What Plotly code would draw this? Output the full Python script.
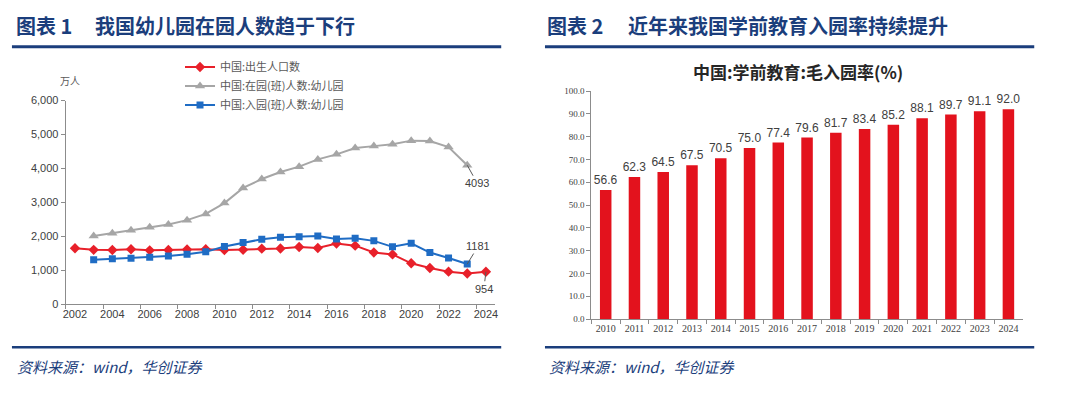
import plotly.graph_objects as go

# ---- data: left chart (万人) ----
years_birth = list(range(2002, 2025))
births = [1647, 1599, 1593, 1617, 1585, 1594, 1608, 1615, 1592, 1604, 1635, 1640,
          1683, 1655, 1786, 1723, 1523, 1465, 1202, 1062, 956, 902, 954]
years_kg = list(range(2003, 2024))
in_kg = [2004, 2089, 2179, 2264, 2349, 2475, 2658, 2977, 3424, 3686, 3895, 4051,
         4265, 4414, 4600, 4656, 4714, 4818, 4805, 4627, 4093]
enroll_kg = [1310, 1340, 1350, 1380, 1420, 1470, 1540, 1700, 1816, 1911, 1970, 1988,
             2009, 1922, 1938, 1864, 1688, 1791, 1519, 1360, 1181]
left_names = ["中国:出生人口数", "中国:在园(班)人数:幼儿园", "中国:入园(班)人数:幼儿园"]
left_yticks = [0, 1000, 2000, 3000, 4000, 5000, 6000]
left_xticks = list(range(2002, 2025, 2))

# ---- data: right chart (%) ----
rate_years = [str(y) for y in range(2010, 2025)]
rate = [56.6, 62.3, 64.5, 67.5, 70.5, 75.0, 77.4, 79.6, 81.7, 83.4, 85.2, 88.1, 89.7, 91.1, 92.0]
right_yticks = [0, 10, 20, 30, 40, 50, 60, 70, 80, 90, 100]

W, H = 1080, 393
def px(x):
    return x / W
def py(y):
    return (H - y) / H

NAVY = "#1B3E7C"
CJK = "Noto Sans CJK SC"
AXC = "#8C8C8C"
TXT = "#404040"

fig = go.Figure()

fig.add_trace(go.Scatter(x=years_birth, y=births, name=left_names[0], mode="lines+markers",
                         line=dict(color="#E8202A", width=2),
                         marker=dict(symbol="diamond", size=8, color="#E8202A"),
                         xaxis="x", yaxis="y"))
fig.add_trace(go.Scatter(x=years_kg, y=in_kg, name=left_names[1], mode="lines+markers",
                         line=dict(color="#A6A6A6", width=2),
                         marker=dict(symbol="triangle-up", size=9, color="#A6A6A6"),
                         xaxis="x", yaxis="y"))
fig.add_trace(go.Scatter(x=years_kg, y=enroll_kg, name=left_names[2], mode="lines+markers",
                         line=dict(color="#1F6CC4", width=2),
                         marker=dict(symbol="square", size=7, color="#1F6CC4"),
                         xaxis="x", yaxis="y"))

fig.add_trace(go.Bar(x=rate_years, y=rate, marker=dict(color="#E3121D", line=dict(width=0)),
                     width=0.4, text=[f"{v:.1f}" for v in rate], textposition="outside",
                     textangle=0, constraintext="none",
                     textfont=dict(family="Liberation Sans", size=12, color=TXT),
                     cliponaxis=False, showlegend=False, xaxis="x2", yaxis="y2"))

fig.update_layout(
    width=W, height=H, margin=dict(l=0, r=0, t=0, b=0),
    paper_bgcolor="white", plot_bgcolor="white",
    showlegend=True,
    legend=dict(x=px(178), y=py(48), xanchor="left", yanchor="top",
                font=dict(family=CJK, size=11, color="#595959"),
                bgcolor="rgba(0,0,0,0)", tracegroupgap=0, itemwidth=30),
    xaxis=dict(domain=[px(63), px(495)], range=[2001.5, 2024.5], anchor="y",
               tickmode="array", tickvals=left_xticks, ticks="",
               showline=True, linecolor=AXC, linewidth=1, showgrid=False, zeroline=False,
               tickfont=dict(family="Liberation Sans", size=11, color=TXT),
               minor=dict(tickmode="array", tickvals=[2001.5 + 2 * i for i in range(12)],
                          ticks="outside", ticklen=4, tickcolor=AXC, showgrid=False)),
    yaxis=dict(domain=[py(307.5), py(97.5)], range=[0, 6000], anchor="x",
               tickmode="array", tickvals=left_yticks, tickformat=",d",
               ticks="outside", ticklen=4, tickcolor=AXC,
               showline=True, linecolor=AXC, linewidth=1, showgrid=False, zeroline=False,
               tickfont=dict(family="Liberation Sans", size=11, color=TXT)),
    xaxis2=dict(domain=[px(591.6), px(1025.5)], type="category", anchor="y2",
                tickson="boundaries", ticks="outside", ticklen=4, tickcolor=AXC, tickangle=0,
                showline=True, linecolor=AXC, linewidth=1, showgrid=False,
                tickfont=dict(family="Liberation Serif", size=10, color=TXT)),
    yaxis2=dict(domain=[py(323), py(87.7)], range=[0, 100], anchor="x2",
                tickmode="array", tickvals=right_yticks, tickformat=".1f",
                ticks="outside", ticklen=4, tickcolor=AXC,
                showline=True, linecolor=AXC, linewidth=1, showgrid=False, zeroline=False,
                tickfont=dict(family="Liberation Serif", size=9, color=TXT)),
)

ann = []
# panel titles
ann.append(dict(text="<b>图表 1</b>", x=px(11), y=py(20), xref="paper", yref="paper",
                xanchor="left", yanchor="middle", showarrow=False,
                font=dict(family=CJK, size=20, color=NAVY)))
ann.append(dict(text="<b>我国幼儿园在园人数趋于下行</b>", x=px(91), y=py(20), xref="paper", yref="paper",
                xanchor="left", yanchor="middle", showarrow=False,
                font=dict(family=CJK, size=20, color=NAVY)))
ann.append(dict(text="<b>图表 2</b>", x=px(545), y=py(20), xref="paper", yref="paper",
                xanchor="left", yanchor="middle", showarrow=False,
                font=dict(family=CJK, size=20, color=NAVY)))
ann.append(dict(text="<b>近年来我国学前教育入园率持续提升</b>", x=px(626), y=py(20), xref="paper", yref="paper",
                xanchor="left", yanchor="middle", showarrow=False,
                font=dict(family=CJK, size=20, color=NAVY)))
# sources
for xs in (12, 547):
    ann.append(dict(text="<i>资料来源：wind，华创证券</i>", x=px(xs), y=py(372), xref="paper", yref="paper",
                    xanchor="left", yanchor="middle", showarrow=False,
                    font=dict(family=CJK, size=15, color=NAVY)))
# unit
ann.append(dict(text="万人", x=px(67), y=py(77), xref="paper", yref="paper",
                xanchor="center", yanchor="middle", showarrow=False,
                font=dict(family=CJK, size=10, color="#595959")))
# right chart title
ann.append(dict(text="<b>中国:学前教育:毛入园率(%)</b>", x=px(799), y=py(68), xref="paper", yref="paper",
                xanchor="center", yanchor="middle", showarrow=False,
                font=dict(family=CJK, size=17, color="#262626")))
# end-point labels
lab_font = dict(family="Liberation Sans", size=11, color=TXT)
ann.append(dict(text=str(in_kg[-1]), x=years_kg[-1], y=in_kg[-1], xref="x", yref="y",
                showarrow=True, arrowhead=0, arrowwidth=1, arrowcolor="#595959",
                ax=10, ay=18, font=lab_font))
ann.append(dict(text=str(enroll_kg[-1]), x=years_kg[-1], y=enroll_kg[-1], xref="x", yref="y",
                showarrow=True, arrowhead=0, arrowwidth=1, arrowcolor="#595959",
                ax=11, ay=-18, font=lab_font))
ann.append(dict(text=str(births[-1]), x=years_birth[-1], y=births[-1], xref="x", yref="y",
                showarrow=True, arrowhead=0, arrowwidth=1, arrowcolor="#595959",
                ax=-2, ay=17, font=lab_font))
fig.update_layout(annotations=ann)

shapes = []
for x0, x1 in ((9, 501), (545, 1037)):
    shapes.append(dict(type="line", xref="paper", yref="paper", x0=px(x0), x1=px(x1),
                       y0=py(42), y1=py(42), line=dict(color=NAVY, width=3)))
    shapes.append(dict(type="line", xref="paper", yref="paper", x0=px(x0), x1=px(x1),
                       y0=py(352), y1=py(352), line=dict(color=NAVY, width=2.5)))
fig.update_layout(shapes=shapes)

fig.write_html("out.html", config={"displayModeBar": False},
               post_script="document.body.style.margin='0';")
